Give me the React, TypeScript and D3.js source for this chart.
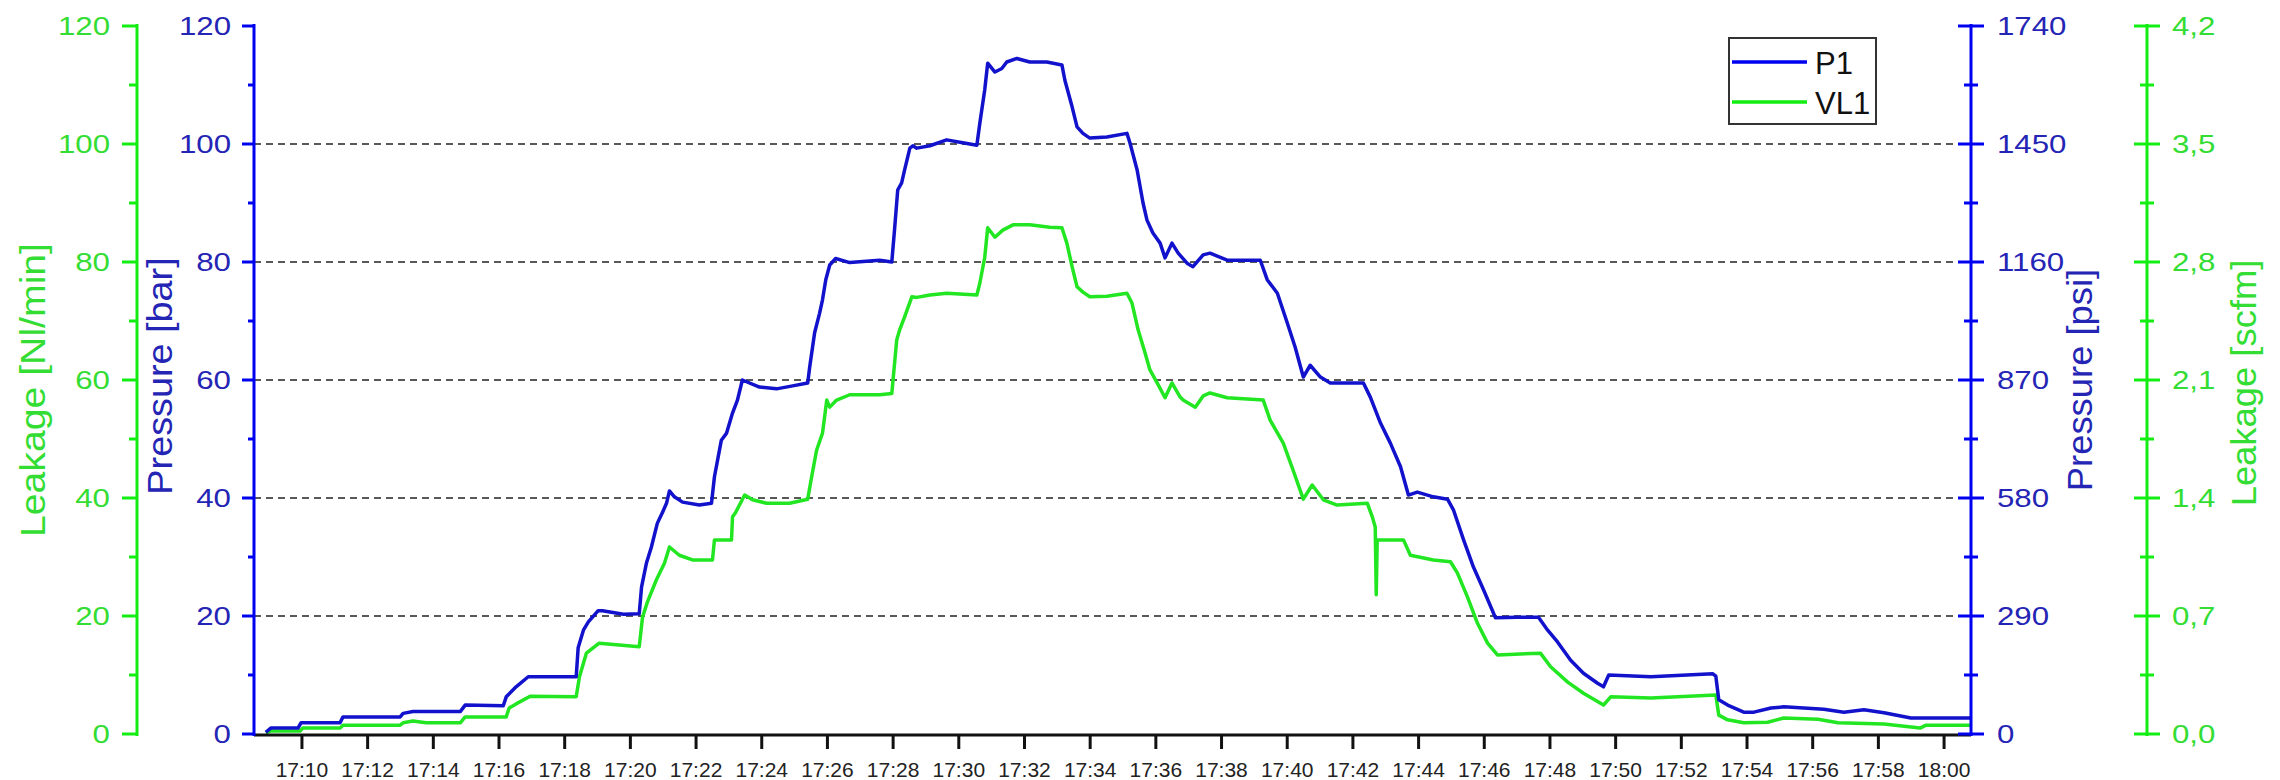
import React from "react";
import * as d3 from "d3";

// time in minutes after 17:00
const p1Minutes = [8.9, 9.05, 9.88, 9.97, 11.16, 11.25, 12.99, 13.08, 13.38, 14.82, 14.97, 16.13, 16.22, 16.52, 16.89, 18.35, 18.41, 18.57, 18.72, 19.02, 19.15, 19.79, 20.27, 20.34, 20.49, 20.64, 20.82, 20.98, 21.1, 21.19, 21.34, 21.59, 22.1, 22.47, 22.56, 22.77, 22.93, 23.11, 23.26, 23.41, 23.93, 24.45, 24.94, 25.4, 25.46, 25.61, 25.76, 25.85, 25.95, 26.07, 26.25, 26.68, 27.59, 27.96, 28.05, 28.14, 28.26, 28.35, 28.51, 28.6, 28.72, 29.12, 29.63, 30.12, 30.55, 30.64, 30.79, 30.88, 31.1, 31.31, 31.46, 31.77, 32.16, 32.68, 33.14, 33.23, 33.45, 33.6, 33.78, 33.99, 34.51, 35.12, 35.21, 35.43, 35.61, 35.73, 35.91, 36.13, 36.28, 36.49, 36.68, 36.95, 37.13, 37.44, 37.65, 38.17, 39.18, 39.39, 39.7, 40.0, 40.24, 40.49, 40.7, 41.01, 41.31, 42.32, 42.53, 42.84, 43.14, 43.45, 43.69, 43.96, 44.45, 44.88, 45.06, 45.37, 45.67, 45.98, 46.34, 47.01, 47.65, 47.93, 48.23, 48.63, 49.02, 49.45, 49.63, 49.79, 51.07, 52.96, 53.05, 53.14, 53.41, 53.9, 54.21, 54.73, 55.12, 56.34, 56.95, 57.56, 58.17, 58.99, 60.82];
const p1Bar = [0.3, 1.0, 1.0, 1.9, 1.9, 2.9, 2.9, 3.5, 3.8, 3.8, 4.9, 4.8, 6.3, 8.0, 9.7, 9.7, 14.6, 17.6, 19.0, 20.9, 20.9, 20.3, 20.4, 24.9, 29.0, 31.7, 35.7, 37.6, 39.1, 41.2, 40.2, 39.3, 38.8, 39.1, 43.6, 49.8, 51.0, 54.4, 56.6, 60.0, 58.8, 58.5, 59.0, 59.5, 62.2, 68.0, 71.3, 73.6, 77.0, 79.5, 80.6, 79.9, 80.3, 80.0, 85.9, 92.2, 93.4, 95.6, 99.3, 99.7, 99.3, 99.7, 100.7, 100.2, 99.8, 103.5, 109.2, 113.7, 112.2, 112.8, 113.9, 114.5, 113.9, 113.9, 113.4, 110.8, 106.3, 102.9, 101.8, 101.0, 101.2, 101.8, 100.2, 95.6, 90.0, 87.1, 84.9, 83.2, 80.7, 83.2, 81.5, 79.8, 79.2, 81.2, 81.5, 80.3, 80.3, 77.0, 74.7, 69.7, 65.6, 60.5, 62.5, 60.5, 59.5, 59.5, 57.1, 52.7, 49.3, 45.3, 40.5, 41.0, 40.2, 39.8, 38.0, 32.9, 28.3, 24.4, 19.7, 19.8, 19.8, 17.6, 15.6, 12.5, 10.3, 8.6, 8.0, 10.0, 9.7, 10.2, 9.8, 5.8, 4.9, 3.7, 3.7, 4.4, 4.6, 4.2, 3.7, 4.1, 3.6, 2.7, 2.7];

const vl1Minutes = [8.9, 9.05, 9.94, 10.03, 11.16, 11.25, 12.99, 13.08, 13.38, 13.78, 14.82, 14.97, 16.22, 16.31, 16.52, 16.95, 18.35, 18.45, 18.66, 19.05, 20.27, 20.37, 20.52, 20.79, 21.04, 21.19, 21.49, 21.89, 22.5, 22.56, 23.08, 23.11, 23.2, 23.48, 23.72, 24.15, 24.85, 25.4, 25.52, 25.67, 25.85, 25.98, 26.07, 26.28, 26.68, 27.59, 27.96, 28.11, 28.2, 28.35, 28.57, 28.72, 29.12, 29.63, 30.55, 30.64, 30.79, 30.88, 31.1, 31.34, 31.65, 32.16, 32.77, 33.14, 33.29, 33.45, 33.6, 33.78, 33.99, 34.51, 35.12, 35.27, 35.46, 35.67, 35.82, 36.04, 36.28, 36.49, 36.74, 36.83, 37.2, 37.44, 37.65, 38.17, 39.27, 39.48, 39.88, 40.18, 40.49, 40.76, 41.1, 41.52, 42.44, 42.59, 42.68, 42.71, 42.74, 43.54, 43.75, 44.45, 44.97, 45.18, 45.49, 45.79, 46.1, 46.4, 47.71, 48.02, 48.54, 49.02, 49.63, 49.85, 51.07, 53.05, 53.14, 53.41, 53.9, 54.63, 55.12, 56.16, 56.77, 58.17, 59.27, 59.45, 60.82];
const vl1Flow = [0.2, 0.5, 0.5, 1.0, 1.0, 1.5, 1.5, 1.9, 2.2, 1.9, 1.9, 2.9, 2.9, 4.4, 5.1, 6.4, 6.3, 9.7, 13.7, 15.4, 14.8, 19.8, 22.4, 26.1, 29.0, 31.7, 30.3, 29.5, 29.5, 32.9, 32.9, 36.8, 37.5, 40.5, 39.7, 39.1, 39.1, 39.8, 43.6, 48.1, 51.0, 56.6, 55.4, 56.6, 57.5, 57.5, 57.7, 66.8, 68.5, 70.7, 74.1, 74.0, 74.4, 74.7, 74.4, 76.4, 80.8, 85.8, 84.2, 85.4, 86.3, 86.3, 85.9, 85.8, 83.2, 79.2, 75.8, 74.9, 74.1, 74.2, 74.7, 73.1, 68.5, 64.6, 61.7, 59.5, 57.0, 59.5, 57.1, 56.6, 55.4, 57.3, 57.8, 57.0, 56.6, 53.2, 49.3, 44.7, 39.8, 42.2, 39.7, 38.8, 39.1, 36.8, 35.1, 23.6, 32.9, 32.9, 30.3, 29.5, 29.2, 27.3, 23.2, 18.8, 15.4, 13.4, 13.7, 11.4, 8.8, 6.9, 4.9, 6.3, 6.1, 6.6, 3.2, 2.4, 1.9, 2.0, 2.7, 2.5, 1.9, 1.7, 1.0, 1.5, 1.5];

const timeTickMinutes = [10, 12, 14, 16, 18, 20, 22, 24, 26, 28, 30, 32, 34, 36, 38, 40, 42, 44, 46, 48, 50, 52, 54, 56, 58, 60];
const timeTickLabels = ["17:10", "17:12", "17:14", "17:16", "17:18", "17:20", "17:22", "17:24", "17:26", "17:28", "17:30", "17:32", "17:34", "17:36", "17:38", "17:40", "17:42", "17:44", "17:46", "17:48", "17:50", "17:52", "17:54", "17:56", "17:58", "18:00"];
const barTicks = [0, 20, 40, 60, 80, 100, 120];
const flowTicks = [0, 20, 40, 60, 80, 100, 120];
const psiTicks = [0, 290, 580, 870, 1160, 1450, 1740];
const scfmTicks = [0, 0.7, 1.4, 2.1, 2.8, 3.5, 4.2];
const scfmLabels = ["0,0", "0,7", "1,4", "2,1", "2,8", "3,5", "4,2"];
const gridValues = [20, 40, 60, 80, 100];
const seriesNames = ["P1", "VL1"];

const FONT = "'Liberation Sans', Arial, sans-serif";
const BLUE = "#0000f0";
const BLUE_LINE = "#1212cc";
const BLUE_TEXT = "#2525b5";
const GREEN = "#12ee12";
const GREEN_LINE = "#22e622";
const GREEN_TEXT = "#33dd33";

const X0 = 254, X1 = 1971, Y0 = 734, Y1 = 26;

function midpoints(t: number[]) {
  const out: number[] = [];
  for (let i = 0; i < t.length - 1; i++) out.push((t[i] + t[i + 1]) / 2);
  return out;
}

type AxisProps = {
  ax: number;
  scale: d3.ScaleLinear<number, number>;
  ticks: number[];
  labels: string[];
  color: string;
  textColor: string;
  side: "left" | "right";
  majorLen: number;
  minorLen: number;
  labelGap: number;
};

function VAxis({ ax, scale, ticks, labels, color, textColor, side, majorLen, minorLen, labelGap }: AxisProps) {
  const minors = midpoints(ticks);
  const r = scale.range();
  return (
    <g>
      <line x1={ax} x2={ax} y1={r[0] + 2} y2={r[1] - 2} stroke={color} strokeWidth={3} />
      {ticks.map((t, i) => {
        const y = scale(t);
        const xa = ax - majorLen;
        const xb = side === "left" ? ax : ax + majorLen;
        return <line key={"M" + i} x1={xa} x2={xb} y1={y} y2={y} stroke={color} strokeWidth={3} />;
      })}
      {minors.map((t, i) => {
        const y = scale(t);
        const xa = ax - minorLen;
        const xb = side === "left" ? ax : ax + minorLen;
        return <line key={"m" + i} x1={xa} x2={xb} y1={y} y2={y} stroke={color} strokeWidth={3} />;
      })}
      {ticks.map((t, i) => {
        const y = scale(t);
        const lx = side === "left" ? ax - labelGap : ax + labelGap;
        return (
          <text
            key={"l" + i}
            transform={`translate(${lx},${y + 9}) scale(1.25,1)`}
            textAnchor={side === "left" ? "end" : "start"}
            fontFamily={FONT}
            fontSize={25}
            fill={textColor}
          >
            {labels[i]}
          </text>
        );
      })}
    </g>
  );
}

function VTitle({ cx, cy, text, color, stretch }: { cx: number; cy: number; text: string; color: string; stretch: number }) {
  return (
    <text
      transform={`translate(${cx + 12},${cy}) rotate(-90) scale(${stretch},1)`}
      textAnchor="middle"
      fontFamily={FONT}
      fontSize={35}
      fill={color}
    >
      {text}
    </text>
  );
}

export default function App() {
  const x = d3.scaleLinear().domain([8.54, 60.82]).range([X0, X1]);
  const yBar = d3.scaleLinear().domain([0, 120]).range([Y0, Y1]);
  const yFlow = d3.scaleLinear().domain([0, 120]).range([Y0, Y1]);
  const yPsi = d3.scaleLinear().domain([0, 1740]).range([Y0, Y1]);
  const yScfm = d3.scaleLinear().domain([0, 4.2]).range([Y0, Y1]);

  const p1Data: [number, number][] = p1Minutes.map((t, i) => [t, p1Bar[i]]);
  const vl1Data: [number, number][] = vl1Minutes.map((t, i) => [t, vl1Flow[i]]);

  const p1Line = d3.line<[number, number]>().x((d) => x(d[0])).y((d) => yBar(d[1]));
  const vl1Line = d3.line<[number, number]>().x((d) => x(d[0])).y((d) => yFlow(d[1]));

  return (
    <svg
      width={2280}
      height={780}
      style={{ position: "absolute", left: 0, top: 0, background: "#fff" }}
    >
      <rect x={0} y={0} width={2280} height={780} fill="#fff" />
      {/* grid */}
      {gridValues.map((g) => (
        <line
          key={g}
          x1={X0}
          x2={X1}
          y1={yBar(g)}
          y2={yBar(g)}
          stroke="#222"
          strokeWidth={1.6}
          strokeDasharray="7,5"
        />
      ))}

      {/* series */}
      <path d={vl1Line(vl1Data) || ""} fill="none" stroke={GREEN_LINE} strokeWidth={3.5} strokeLinejoin="round" />
      <path d={p1Line(p1Data) || ""} fill="none" stroke={BLUE_LINE} strokeWidth={3.5} strokeLinejoin="round" />

      {/* bottom axis */}
      <line x1={X0} x2={X1} y1={Y0 + 1} y2={Y0 + 1} stroke="#111" strokeWidth={3} />
      {timeTickMinutes.map((t, i) => (
        <g key={t}>
          <line x1={x(t)} x2={x(t)} y1={Y0 + 1} y2={Y0 + 15} stroke="#111" strokeWidth={3} />
          <text x={x(t)} y={777} textAnchor="middle" fontFamily={FONT} fontSize={21} fill="#222">
            {timeTickLabels[i]}
          </text>
        </g>
      ))}

      {/* left axes */}
      <VAxis ax={137} scale={yFlow} ticks={flowTicks} labels={flowTicks.map(String)} color={GREEN} textColor={GREEN_TEXT}
        side="left" majorLen={15} minorLen={8} labelGap={27} />
      <VAxis ax={X0} scale={yBar} ticks={barTicks} labels={barTicks.map(String)} color={BLUE} textColor={BLUE_TEXT}
        side="left" majorLen={12} minorLen={6} labelGap={23} />
      {/* right axes */}
      <VAxis ax={X1} scale={yPsi} ticks={psiTicks} labels={psiTicks.map(String)} color={BLUE} textColor={BLUE_TEXT}
        side="right" majorLen={13} minorLen={7} labelGap={26} />
      <VAxis ax={2147} scale={yScfm} ticks={scfmTicks} labels={scfmLabels} color={GREEN} textColor={GREEN_TEXT}
        side="right" majorLen={13} minorLen={7} labelGap={25} />

      {/* titles */}
      <VTitle cx={33} cy={390} text="Leakage [Nl/min]" color={GREEN_TEXT} stretch={1.12} />
      <VTitle cx={160} cy={376} text="Pressure [bar]" color={BLUE_TEXT} stretch={1.08} />
      <VTitle cx={2080} cy={380} text="Pressure [psi]" color={BLUE_TEXT} stretch={1.04} />
      <VTitle cx={2244} cy={383} text="Leakage [scfm]" color={GREEN_TEXT} stretch={1.04} />

      {/* legend */}
      <g>
        <rect x={1729} y={38} width={147} height={86} fill="#fff" stroke="#333" strokeWidth={2} />
        <line x1={1732} x2={1807} y1={62} y2={62} stroke={BLUE} strokeWidth={3.5} />
        <text x={1815} y={74} fontFamily={FONT} fontSize={31} fill="#111">{seriesNames[0]}</text>
        <line x1={1732} x2={1807} y1={102} y2={102} stroke={GREEN} strokeWidth={3.5} />
        <text x={1815} y={114} fontFamily={FONT} fontSize={31} fill="#111">{seriesNames[1]}</text>
      </g>
    </svg>
  );
}
